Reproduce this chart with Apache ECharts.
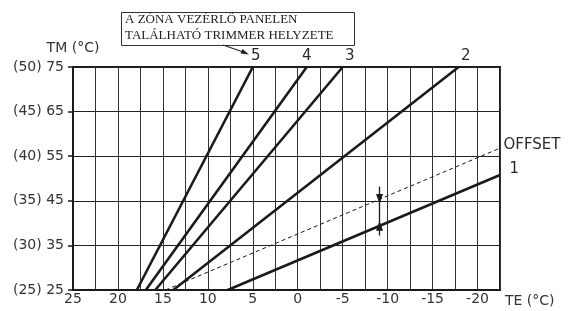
<!DOCTYPE html>
<html>
<head>
<meta charset="utf-8">
<script src="https://cdn.jsdelivr.net/npm/echarts@6/dist/echarts.min.js"></script>
<style>
html,body{margin:0;padding:0;background:#fff;}
#chart{width:568px;height:311px;}
</style>
</head>
<body>
<div id="chart"></div>
<script>
// ---- data ----
const curveNames = ['1', '2', '3', '4', '5'];
const curve1 = [[7.8, 25], [-22.5, 50.8]];
const curve2 = [[13.85, 25], [-17.9, 75]];
const curve3 = [[15.85, 25], [-5, 75]];
const curve4 = [[16.9, 25], [-1, 75]];
const curve5 = [[17.9, 25], [5, 75]];
const offsetLine = [[14.7, 25], [-22.5, 56.8]];
const offsetName = 'OFFSET';
// offset arrow: TE position, outer top, offset line, curve 1, outer bottom
const arrowTE = -9.1;
const arrowY = [48.2, 45.4, 39.4, 37.2];
// axes
const xLabelValues = [25, 20, 15, 10, 5, 0, -5, -10, -15, -20];
const yTickValues = [25, 35, 45, 55, 65, 75];
const yTickParens = ['(25)', '(30)', '(35)', '(40)', '(45)', '(50)'];
const xAxisName = 'TE (°C)';
const yAxisName = 'TM (°C)';
const boxLines = ['A ZÓNA VEZÉRLŐ PANELEN', 'TALÁLHATÓ TRIMMER HELYZETE'];

const FONT = 'DejaVu Sans';
const INK = '#1a1a1a';
const CLEAR = 'rgba(0,0,0,0)';

function curveSeries(name, data, labelOpt) {
  const pts = data.map((p, i) => {
    if (i === data.length - 1) {
      return {value: p, label: Object.assign({show: true, formatter: name,
        fontFamily: FONT, fontSize: 15, color: '#2a2a2a'}, labelOpt)};
    }
    return {value: p};
  });
  return {
    type: 'line', name: name, data: pts, symbol: 'circle', symbolSize: 1, showSymbol: true,
    itemStyle: {color: CLEAR, borderColor: CLEAR, borderWidth: 0},
    silent: true, animation: false,
    lineStyle: {color: INK, width: 2.6},
    label: {show: false}
  };
}

const chart = echarts.init(document.getElementById('chart'), null, {renderer: 'canvas'});
const option = {
  animation: false,
  backgroundColor: '#fff',
  grid: {left: 73, right: 68, top: 67, bottom: 21, show: true, borderColor: INK, borderWidth: 2, containLabel: false},
  xAxis: {
    type: 'value', inverse: true, min: -22.5, max: 25, interval: 2.5,
    name: xAxisName, nameLocation: 'start', nameGap: 5,
    nameTextStyle: {fontFamily: FONT, fontSize: 14, color: '#333', verticalAlign: 'top', align: 'left', padding: [4, 0, 0, 0]},
    axisLine: {show: true, onZero: false, lineStyle: {color: INK, width: 2}},
    axisTick: {show: false},
    axisLabel: {
      margin: 2, fontFamily: FONT, fontSize: 14, color: '#333',
      formatter: v => xLabelValues.indexOf(v) >= 0 ? String(v) : ''
    },
    splitLine: {show: true, lineStyle: {color: '#333', width: 1}}
  },
  yAxis: {
    type: 'value', min: 25, max: 75, interval: 10,
    name: yAxisName, nameLocation: 'end', nameGap: 12,
    nameTextStyle: {fontFamily: FONT, fontSize: 14, color: '#333', align: 'center', padding: [0, 0, 0, 0]},
    axisLine: {show: true, onZero: false, lineStyle: {color: INK, width: 2}},
    axisTick: {show: true, inside: false, length: 5, lineStyle: {color: INK, width: 1.5}},
    axisLabel: {
      margin: 9, fontFamily: FONT, fontSize: 14, color: '#333',
      formatter: v => {
        const i = yTickValues.indexOf(v);
        return i >= 0 ? yTickParens[i] + ' ' + v : '';
      }
    },
    splitLine: {show: true, lineStyle: {color: '#222', width: 1}}
  },
  series: [
    curveSeries(curveNames[0], curve1, {position: 'right', distance: 9, offset: [0, -6]}),
    curveSeries(curveNames[1], curve2, {position: 'top', distance: 3, offset: [7, 0]}),
    curveSeries(curveNames[2], curve3, {position: 'top', distance: 3, offset: [7, 0]}),
    curveSeries(curveNames[3], curve4, {position: 'top', distance: 3, offset: [0, 0]}),
    curveSeries(curveNames[4], curve5, {position: 'top', distance: 3, offset: [3, 0]}),
    {
      type: 'line', name: offsetName, symbol: 'circle', symbolSize: 1, showSymbol: true,
      itemStyle: {color: CLEAR, borderColor: CLEAR, borderWidth: 0}, silent: true,
      data: offsetLine.map((p, i) => i === offsetLine.length - 1 ?
        {value: p, label: {show: true, formatter: offsetName, position: 'right', distance: 3, offset: [0, -3],
          fontFamily: FONT, fontSize: 15, color: '#2a2a2a'}} : {value: p}),
      lineStyle: {color: INK, width: 1, type: [4, 3]},
      markLine: {
        silent: true, animation: false,
        symbol: ['none', 'triangle'], symbolSize: [7, 10],
        label: {show: false},
        lineStyle: {color: INK, width: 1.3, type: 'solid'},
        data: [
          [{coord: [arrowTE, arrowY[0]]}, {coord: [arrowTE, arrowY[1]]}],
          [{coord: [arrowTE, arrowY[3]]}, {coord: [arrowTE, arrowY[2]]}],
          [{coord: [arrowTE, arrowY[1]], symbol: 'none'}, {coord: [arrowTE, arrowY[2]], symbol: 'none'}]
        ]
      }
    }
  ],
  graphic: [
    {type: 'rect', left: 121, top: 12, shape: {width: 233, height: 33}, style: {fill: '#fff', stroke: '#333', lineWidth: 1}, z: 10},
    {type: 'text', left: 125, top: 13, style: {text: boxLines[0], font: '13px "Liberation Serif", serif', fill: '#222'}, z: 11},
    {type: 'text', left: 125, top: 29, style: {text: boxLines[1], font: '13px "Liberation Serif", serif', fill: '#222'}, z: 11},
    {type: 'polyline', shape: {points: [[223, 45], [246, 53]]}, style: {stroke: '#222', lineWidth: 1.2, fill: null}, z: 11},
    {type: 'polygon', shape: {points: [[249, 54.5], [240.5, 53.5], [242.5, 49]]}, style: {fill: '#222'}, z: 11}
  ]
};
chart.setOption(option);
</script>
</body>
</html>
